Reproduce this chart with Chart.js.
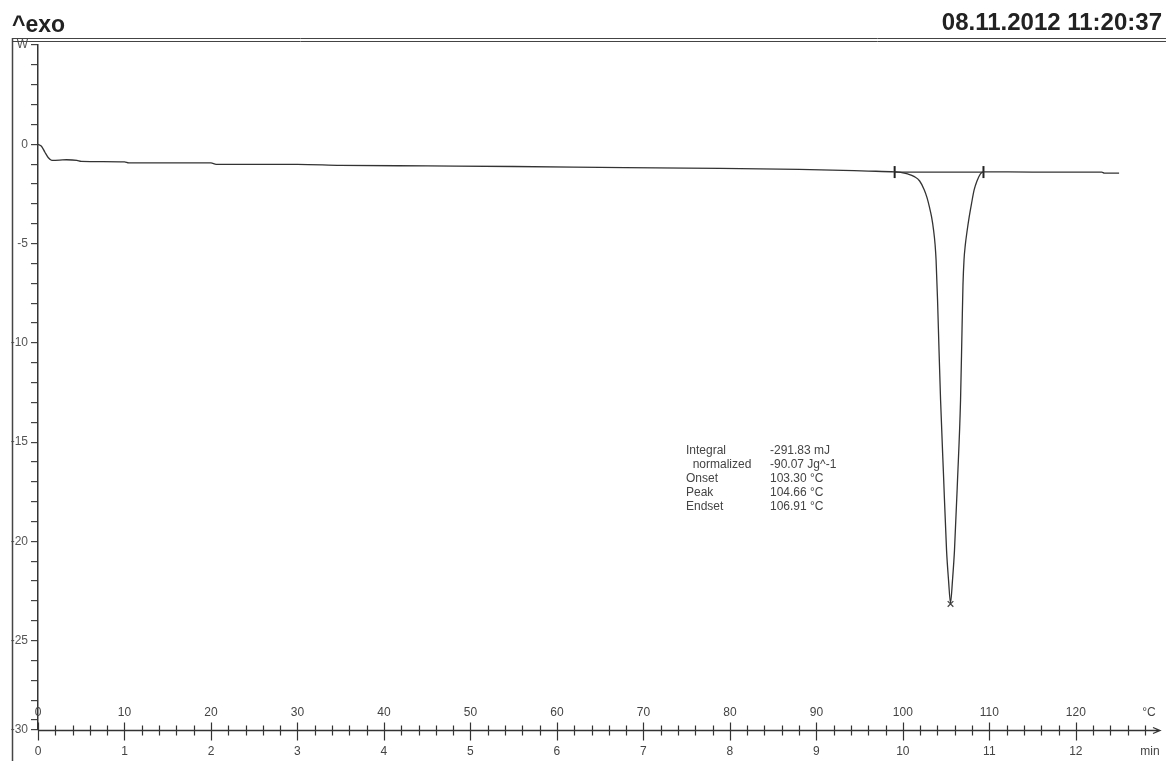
<!DOCTYPE html>
<html>
<head>
<meta charset="utf-8">
<script src="https://cdn.jsdelivr.net/npm/chart.js@4.4.1/dist/chart.umd.min.js"></script>
<style>
  body { margin: 0; background: #fff; }
  #wrap { position: relative; width: 1166px; height: 761px; }
  .head { position: absolute; font-family: Arial, "Liberation Sans", sans-serif; font-weight: bold; color: #222; }
  #results { position: absolute; left: 686px; top: 443px; font: 12px Arial, "Liberation Sans", sans-serif; color: #444; border-collapse: collapse; }
  #results td { padding: 0; height: 14px; line-height: 14px; white-space: pre; }
</style>
</head>
<body>
<div id="wrap">
  <canvas id="dsc"></canvas>
  <div class="head" style="left:12px; top:11px; font-size:23px;">^exo</div>
  <div class="head" style="right:4px; top:8px; font-size:24px;">08.11.2012 11:20:37</div>
  <table id="results"></table>
</div>
<script>
// DSC curve, time in min, heat flow in W-axis units
const timeMin = [0.00, 0.04, 0.08, 0.12, 0.16, 0.25, 0.33, 0.45, 0.50, 1.00, 1.05, 2.00, 2.06, 3.00,
  3.50, 4.50, 5.50, 6.50, 7.50, 8.80, 9.60, 9.905, 9.975, 10.055, 10.133, 10.194, 10.248, 10.280,
  10.306, 10.332, 10.355, 10.373, 10.384, 10.401, 10.418, 10.436, 10.470, 10.505, 10.528, 10.551,
  10.574, 10.597, 10.632, 10.667, 10.684, 10.695, 10.707, 10.722, 10.741, 10.767, 10.793, 10.824,
  10.857, 10.897, 10.932, 11.50, 12.30, 12.33, 12.50];
const heatFlow = [0.00, -0.10, -0.40, -0.68, -0.81, -0.80, -0.78, -0.81, -0.86, -0.89, -0.94, -0.94, -1.01, -1.01,
  -1.06, -1.09, -1.12, -1.16, -1.20, -1.26, -1.35, -1.39, -1.41, -1.49, -1.63, -1.85, -2.30, -2.70,
  -3.14, -3.66, -4.32, -5.07, -5.83, -7.84, -10.36, -12.88, -16.66, -20.44, -21.95, -23.10,
  -21.95, -20.44, -16.91, -12.88, -9.34, -7.09, -5.83, -5.07, -4.42, -3.66, -3.01, -2.30,
  -1.85, -1.49, -1.39, -1.40, -1.40, -1.45, -1.45];

const integrationLimits = [9.905, 10.932];
const integrationLevel = -1.40;
const peakTime = 10.551;
const peakValue = -23.15;

const minuteTicks = [0, 1, 2, 3, 4, 5, 6, 7, 8, 9, 10, 11, 12];
const tempLabels = ['0', '10', '20', '30', '40', '50', '60', '70', '80', '90', '100', '110', '120'];
const yTicks = [5, 4, 3, 2, 1, 0, -1, -2, -3, -4, -5, -6, -7, -8, -9, -10, -11, -12, -13, -14, -15,
  -16, -17, -18, -19, -20, -21, -22, -23, -24, -25, -26, -27, -28, -29, -29.5];

const resultNames = ['Integral', '  normalized', 'Onset', 'Peak', 'Endset'];
const resultValues = ['-291.83 mJ', '-90.07 Jg^-1', '103.30 °C', '104.66 °C', '106.91 °C'];

const tbl = document.getElementById('results');
resultNames.forEach((n, i) => {
  const tr = document.createElement('tr');
  tr.innerHTML = '<td style="width:84px">' + n + '</td><td>' + resultValues[i] + '</td>';
  tbl.appendChild(tr);
});

// frame lines and the time/temperature axis
const frame = {
  id: 'frame',
  afterDraw(chart) {
    const ctx = chart.ctx;
    const x = chart.scales.x, y = chart.scales.y;
    ctx.save();
    ctx.strokeStyle = '#444';
    ctx.lineWidth = 1;
    ctx.beginPath();
    ctx.moveTo(12, 38.5); ctx.lineTo(1166, 38.5);
    ctx.moveTo(12, 41.5); ctx.lineTo(1166, 41.5);
    ctx.stroke();
    ctx.lineWidth = 1.5;
    ctx.beginPath();
    ctx.moveTo(12.5, 38); ctx.lineTo(12.5, 761);
    ctx.stroke();

    const y0 = Math.round(y.getPixelForValue(y.min)) + 0.5;
    ctx.strokeStyle = '#333';
    ctx.lineWidth = 1.3;
    ctx.beginPath();
    ctx.moveTo(x.left, y0); ctx.lineTo(x.right + 2, y0);
    ctx.moveTo(x.right - 5, y0 - 3); ctx.lineTo(x.right + 2, y0); ctx.lineTo(x.right - 5, y0 + 3);
    ctx.stroke();

    ctx.lineWidth = 1.2;
    ctx.beginPath();
    for (let i = 0; i <= 64; i++) {
      const t = i / 5;
      const px = Math.round(x.getPixelForValue(t)) + 0.5;
      if (i % 5 === 0) {
        ctx.moveTo(px, y0 - 8); ctx.lineTo(px, y0 + 10);
      } else {
        ctx.moveTo(px, y0 - 5); ctx.lineTo(px, y0 + 5);
      }
    }
    ctx.stroke();

    ctx.fillStyle = '#444';
    ctx.font = '12px Arial, "Liberation Sans", sans-serif';
    ctx.textAlign = 'center';
    ctx.textBaseline = 'middle';
    minuteTicks.forEach((m, i) => {
      const px = x.getPixelForValue(m);
      ctx.fillText(tempLabels[i], px, y0 - 18);
      ctx.fillText(String(m), px, y0 + 21);
    });
    ctx.fillText('°C', 1149, y0 - 18);
    ctx.fillText('min', 1150, y0 + 21);
    ctx.restore();
  }
};

new Chart(document.getElementById('dsc'), {
  type: 'scatter',
  data: {
    datasets: [{
      data: timeMin.map((t, i) => ({ x: t, y: heatFlow[i] })),
      showLine: true,
      borderColor: '#333',
      borderWidth: 1.3,
      pointRadius: 0,
      cubicInterpolationMode: 'monotone'
    }, {
      data: integrationLimits.map(t => ({ x: t, y: integrationLevel })),
      showLine: true,
      borderColor: '#333',
      borderWidth: 1.3,
      pointStyle: 'line',
      rotation: 90,
      pointRadius: 6,
      pointBorderWidth: 2,
      pointBorderColor: '#222'
    }, {
      data: [{ x: peakTime, y: peakValue }],
      showLine: false,
      pointStyle: 'crossRot',
      pointRadius: 4,
      pointBorderWidth: 1.2,
      pointBorderColor: '#444'
    }]
  },
  options: {
    responsive: true,
    maintainAspectRatio: false,
    animation: false,
    layout: { padding: { left: 0, top: 45, right: 6, bottom: 31 } },
    plugins: { legend: { display: false }, tooltip: { enabled: false } },
    scales: {
      x: { type: 'linear', min: 0, max: 12.95, display: false },
      y: {
        type: 'linear',
        min: -29.5,
        max: 5,
        afterFit: s => { s.width = 38; },
        afterBuildTicks: s => { s.ticks = yTicks.map(v => ({ value: v })); },
        grid: { drawOnChartArea: false, drawTicks: true, tickLength: 7, color: '#444', lineWidth: 1.2 },
        border: { display: true, color: '#333', width: 1.5 },
        ticks: {
          autoSkip: false,
          padding: 3,
          color: '#555',
          font: { size: 12, family: 'Arial' },
          callback: v => v === 5 ? 'W' : (v === -29.5 ? '-30' : (v % 5 === 0 ? String(v) : ''))
        }
      }
    }
  },
  plugins: [frame]
});
</script>
</body>
</html>
